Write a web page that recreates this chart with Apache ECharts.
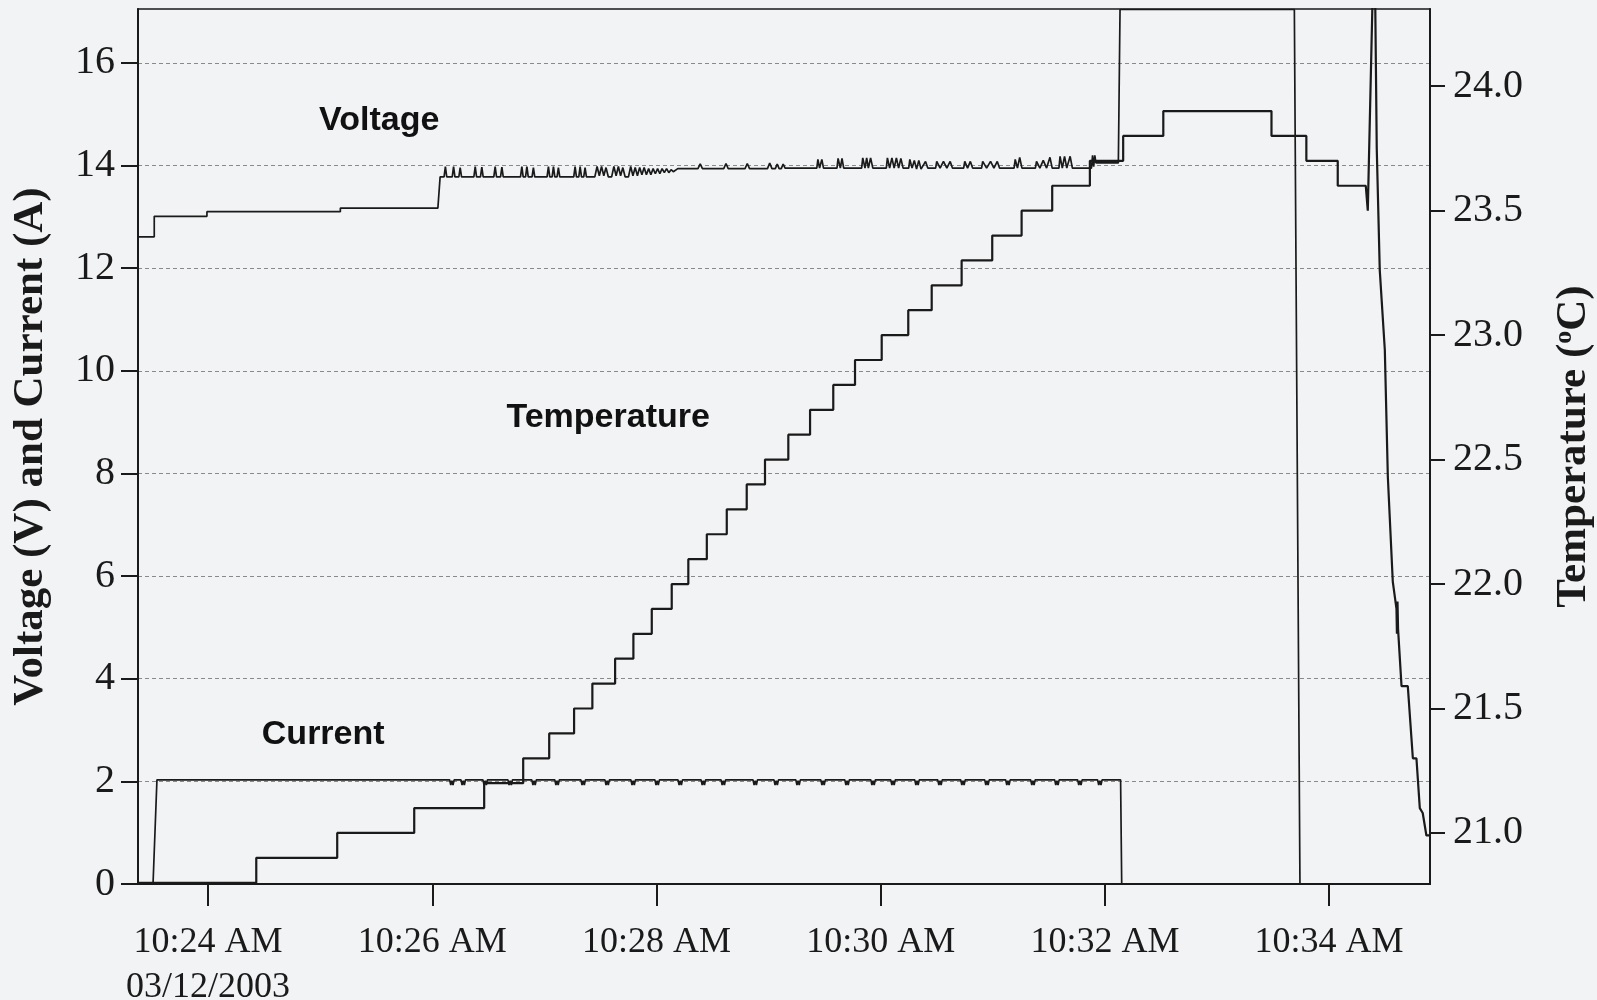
<!DOCTYPE html>
<html>
	<head>
		<meta charset="utf-8">
		<title>Voltage, current and temperature</title>
		<style>
			html, body { margin: 0; padding: 0; background: #f2f3f5; }
			#chart { width: 1597px; height: 1000px; }
		</style>
	</head>
	<body>
		<div id="chart"></div>

		<script src="https://cdn.jsdelivr.net/npm/echarts@6/dist/echarts.min.js"></script>
		<script>
			// time is given in minutes after 10:00 AM
			var timeTicks = [24, 26, 28, 30, 32, 34];
			var leftTicks = [0, 2, 4, 6, 8, 10, 12, 14, 16];
			var tempTicks = [21.0, 21.5, 22.0, 22.5, 23.0, 23.5, 24.0];

			var voltage = [
				[23.375, 12.61], [23.52, 12.61], [23.52, 13.01], [23.99, 13.01], [23.99, 13.1], [25.18, 13.1],
				[25.18, 13.17], [26.05, 13.17], [26.07, 13.78],
				[26.105, 13.78], [26.117, 13.98], [26.129, 13.78], [26.178, 13.78], [26.19, 13.98], [26.202, 13.78],
				[26.237, 13.78], [26.249, 13.96], [26.261, 13.78], [26.371, 13.78], [26.383, 13.98], [26.395, 13.78],
				[26.43, 13.78], [26.442, 13.97], [26.454, 13.78], [26.549, 13.78], [26.561, 13.98], [26.573, 13.78],
				[26.609, 13.78], [26.621, 13.97], [26.633, 13.78], [26.787, 13.78], [26.799, 13.98], [26.811, 13.78],
				[26.832, 13.78], [26.844, 13.98], [26.856, 13.78], [26.89, 13.78], [26.902, 13.96], [26.914, 13.78],
				[27.024, 13.78], [27.036, 13.98], [27.048, 13.78], [27.069, 13.78], [27.081, 13.98], [27.093, 13.78],
				[27.113, 13.78], [27.125, 13.96], [27.137, 13.78], [27.262, 13.78], [27.274, 13.98], [27.286, 13.78],
				[27.307, 13.78], [27.319, 13.98], [27.331, 13.78], [27.351, 13.78], [27.363, 13.96], [27.375, 13.78],
				[27.45, 13.78], [27.47, 13.98], [27.49, 13.8], [27.51, 13.98], [27.53, 13.8], [27.55, 13.96],
				[27.57, 13.78], [27.6, 13.78], [27.62, 13.98], [27.64, 13.8], [27.66, 13.98], [27.68, 13.8],
				[27.7, 13.96], [27.72, 13.78], [27.75, 13.78], [27.77, 13.98], [27.79, 13.8], [27.81, 13.96],
				[27.83, 13.8], [27.85, 13.96], [27.87, 13.82], [27.89, 13.96], [27.91, 13.82], [27.93, 13.94],
				[27.95, 13.82], [27.97, 13.94], [27.99, 13.84], [28.01, 13.94], [28.03, 13.84], [28.05, 13.94],
				[28.07, 13.86], [28.09, 13.94], [28.11, 13.86], [28.13, 13.92], [28.15, 13.88], [28.19, 13.94],
				[28.37, 13.94], [28.39, 14.03], [28.41, 13.94], [28.6, 13.94], [28.62, 14.04], [28.64, 13.94],
				[28.79, 13.94], [28.81, 14.04], [28.83, 13.94], [28.99, 13.94], [29.01, 14.05], [29.03, 13.94],
				[29.06, 13.94], [29.077, 14.03], [29.094, 13.94], [29.113, 13.94], [29.13, 14.03], [29.147, 13.95],
				[29.43, 13.95], [29.44, 14.12], [29.455, 13.95], [29.475, 14.12], [29.49, 13.95],
				[29.61, 13.95], [29.62, 14.14], [29.64, 13.95], [29.655, 14.14], [29.67, 13.95],
				[29.83, 13.95], [29.84, 14.15], [29.86, 13.95], [29.875, 14.15], [29.89, 13.95], [29.91, 14.15], [29.93, 13.95],
				[30.05, 13.95], [30.06, 14.15], [30.08, 13.95], [30.1, 14.15], [30.12, 13.95], [30.14, 14.15],
				[30.16, 13.95], [30.18, 14.14], [30.2, 13.95], [30.25, 13.95], [30.26, 14.12], [30.28, 13.95],
				[30.3, 14.1], [30.32, 13.93], [30.34, 14.1], [30.36, 13.93], [30.4, 14.08], [30.42, 13.95],
				[30.49, 13.95], [30.5, 14.08], [30.53, 13.95], [30.56, 14.08], [30.59, 13.95], [30.62, 14.08], [30.64, 13.95],
				[30.74, 13.95], [30.75, 14.08], [30.775, 13.95], [30.8, 14.08], [30.82, 13.95],
				[30.9, 13.95], [30.91, 14.08], [30.945, 13.95], [30.98, 14.08], [31.01, 13.95], [31.04, 14.08], [31.06, 13.95],
				[31.19, 13.95], [31.2, 14.12], [31.22, 13.95], [31.24, 14.16], [31.26, 13.95],
				[31.38, 13.95], [31.39, 14.08], [31.42, 13.95], [31.45, 14.1], [31.48, 13.95], [31.51, 14.16], [31.53, 13.95],
				[31.59, 13.95], [31.6, 14.18], [31.62, 13.95], [31.64, 14.18], [31.66, 13.95], [31.69, 14.18], [31.71, 13.95],
				[31.88, 13.95], [31.89, 14.2], [31.9, 13.98], [31.91, 14.2], [31.92, 14.05], [32.12, 14.05],
				[32.135, 17.04], [33.69, 17.04], [33.74, 0], [34.9, 0]
			];

			var current = [
				[23.375, 0], [23.509, 0], [23.544, 2.03],
				[26.155, 2.03], [26.165, 1.93], [26.175, 2.01], [26.185, 1.93], [26.195, 2.03],
				[26.256, 2.03], [26.266, 1.93], [26.276, 2.01], [26.286, 1.93], [26.296, 2.03],
				[26.452, 2.03], [26.462, 1.93], [26.472, 2.01], [26.482, 1.93], [26.492, 2.03],
				[26.675, 2.03], [26.685, 1.93], [26.695, 2.01], [26.705, 1.93], [26.715, 2.03],
				[26.888, 2.03], [26.898, 1.93], [26.908, 2.01], [26.918, 1.93], [26.928, 2.03],
				[27.093, 2.03], [27.103, 1.93], [27.113, 2.01], [27.123, 1.93], [27.133, 2.03],
				[27.326, 2.03], [27.336, 1.93], [27.346, 2.01], [27.356, 1.93], [27.366, 2.03],
				[27.54, 2.03], [27.55, 1.93], [27.56, 2.01], [27.57, 1.93], [27.58, 2.03],
				[27.772, 2.03], [27.782, 1.93], [27.792, 2.01], [27.802, 1.93], [27.812, 2.03],
				[27.986, 2.03], [27.996, 1.93], [28.006, 2.01], [28.016, 1.93], [28.026, 2.03],
				[28.192, 2.03], [28.202, 1.93], [28.212, 2.01], [28.222, 1.93], [28.232, 2.03],
				[28.398, 2.03], [28.408, 1.93], [28.418, 2.01], [28.428, 1.93], [28.438, 2.03],
				[28.576, 2.03], [28.586, 1.93], [28.596, 2.01], [28.606, 1.93], [28.616, 2.03],
				[28.861, 2.03], [28.871, 1.93], [28.881, 2.01], [28.891, 1.93], [28.901, 2.03],
				[29.048, 2.03], [29.058, 1.93], [29.068, 2.01], [29.078, 1.93], [29.088, 2.03],
				[29.243, 2.03], [29.253, 1.93], [29.263, 2.01], [29.273, 1.93], [29.283, 2.03],
				[29.466, 2.03], [29.476, 1.93], [29.486, 2.01], [29.496, 1.93], [29.506, 2.03],
				[29.68, 2.03], [29.69, 1.93], [29.7, 2.01], [29.71, 1.93], [29.72, 2.03],
				[29.912, 2.03], [29.922, 1.93], [29.932, 2.01], [29.942, 1.93], [29.952, 2.03],
				[30.09, 2.03], [30.1, 1.93], [30.11, 2.01], [30.12, 1.93], [30.13, 2.03],
				[30.304, 2.03], [30.314, 1.93], [30.324, 2.01], [30.334, 1.93], [30.344, 2.03],
				[30.509, 2.03], [30.519, 1.93], [30.529, 2.01], [30.539, 1.93], [30.549, 2.03],
				[30.714, 2.03], [30.724, 1.93], [30.734, 2.01], [30.744, 1.93], [30.754, 2.03],
				[30.928, 2.03], [30.938, 1.93], [30.948, 2.01], [30.958, 1.93], [30.968, 2.03],
				[31.115, 2.03], [31.125, 1.93], [31.135, 2.01], [31.145, 1.93], [31.155, 2.03],
				[31.338, 2.03], [31.348, 1.93], [31.358, 2.01], [31.368, 1.93], [31.378, 2.03],
				[31.552, 2.03], [31.562, 1.93], [31.572, 2.01], [31.582, 1.93], [31.592, 2.03],
				[31.757, 2.03], [31.767, 1.93], [31.777, 2.01], [31.787, 1.93], [31.797, 2.03],
				[31.935, 2.03], [31.945, 1.93], [31.955, 2.01], [31.965, 1.93], [31.975, 2.03],
				[32.14, 2.03], [32.15, 0], [34.9, 0]
			];

			var temperature = [
				[23.375, 20.8], [24.43, 20.8], [24.43, 20.9], [25.152, 20.9], [25.152, 21.0], [25.839, 21.0],
				[25.839, 21.1], [26.463, 21.1], [26.463, 21.2], [26.811, 21.2], [26.811, 21.3], [27.043, 21.3],
				[27.043, 21.4], [27.265, 21.4], [27.265, 21.5], [27.428, 21.5], [27.428, 21.6], [27.631, 21.6],
				[27.631, 21.7], [27.794, 21.7], [27.794, 21.8], [27.958, 21.8], [27.958, 21.9], [28.136, 21.9],
				[28.136, 22.0], [28.284, 22.0], [28.284, 22.1], [28.449, 22.1], [28.449, 22.2], [28.627, 22.2],
				[28.627, 22.3], [28.805, 22.3], [28.805, 22.4], [28.968, 22.4], [28.968, 22.5], [29.176, 22.5],
				[29.176, 22.6], [29.37, 22.6], [29.37, 22.7], [29.577, 22.7], [29.577, 22.8], [29.771, 22.8],
				[29.771, 22.9], [30.009, 22.9], [30.009, 23.0], [30.246, 23.0], [30.246, 23.1], [30.455, 23.1],
				[30.455, 23.2], [30.722, 23.2], [30.722, 23.3], [30.995, 23.3], [30.995, 23.4], [31.257, 23.4],
				[31.257, 23.5], [31.53, 23.5], [31.53, 23.6], [31.866, 23.6], [31.866, 23.7], [32.163, 23.7],
				[32.163, 23.8], [32.521, 23.8], [32.521, 23.9], [33.486, 23.9], [33.486, 23.8], [33.797, 23.8],
				[33.797, 23.7], [34.077, 23.7], [34.077, 23.6], [34.327, 23.6], [34.345, 23.5], [34.39, 24.4],
				[34.41, 24.4], [34.425, 23.75], [34.452, 23.26], [34.497, 22.94], [34.524, 22.43], [34.568, 22.01],
				[34.601, 21.9], [34.605, 21.8], [34.61, 21.93], [34.615, 21.82], [34.646, 21.59], [34.702, 21.59],
				[34.747, 21.3], [34.779, 21.3], [34.809, 21.1], [34.835, 21.08], [34.868, 20.99], [34.9, 20.99]
			];

			var ink = '#1a1a1a';
			var serif = '"Liberation Serif", "DejaVu Serif", serif';
			var sans = '"Liberation Sans", Arial, sans-serif';

			function timeLabel(v) {
				var s = '10:' + Math.round(v) + ' AM';
				if (Math.round(v) === 24) s += '\n03/12/2003';
				return s;
			}

			// bold captions placed next to each curve
			function textMark(text, coord) {
				return {
					coord: coord,
					symbol: 'circle',
					symbolSize: 0,
					label: {
						show: true,
						position: 'inside',
						formatter: text,
						fontFamily: sans,
						fontWeight: 'bold',
						fontSize: 34,
						color: '#111'
					}
				};
			}

			var chart = echarts.init(document.getElementById('chart'), null, { renderer: 'canvas' });

			var option = {
				backgroundColor: '#f2f3f5',
				animation: false,
				grid: {
					left: 138,
					right: 167,
					top: 9,
					bottom: 116,
					show: true,
					borderColor: ink,
					borderWidth: 1.5,
					backgroundColor: 'transparent',
					outerBoundsMode: 'none'
				},
				xAxis: {
					type: 'value',
					min: 23.375,
					max: 34.9,
					splitLine: { show: false },
					axisLine: { lineStyle: { color: ink, width: 2 } },
					axisTick: { customValues: timeTicks, length: 22, lineStyle: { color: ink, width: 2 } },
					axisLabel: {
						customValues: timeTicks,
						formatter: timeLabel,
						margin: 36,
						fontFamily: serif,
						fontSize: 36,
						lineHeight: 45,
						color: ink
					}
				},
				yAxis: [{
					type: 'value',
					position: 'left',
					min: 0,
					max: 17.05,
					interval: 2,
					name: 'Voltage (V) and Current (A)',
					nameLocation: 'middle',
					nameGap: 86,
					nameTextStyle: { fontFamily: serif, fontWeight: 'bold', fontSize: 43, color: ink },
					axisLine: { show: true, lineStyle: { color: ink, width: 2 } },
					axisTick: { show: true, customValues: leftTicks, length: 17, lineStyle: { color: ink, width: 2 } },
					axisLabel: {
						customValues: leftTicks,
						margin: 23,
						fontFamily: serif,
						fontSize: 40,
						color: ink
					},
					splitLine: { show: true, lineStyle: { color: '#8a8a8a', width: 1, type: [4, 3] } }
				}, {
					type: 'value',
					position: 'right',
					min: 20.795,
					max: 24.31,
					alignTicks: false,
					name: '{a|Temperature (}{s|o}{a|C)}',
					nameLocation: 'middle',
					nameGap: 121,
					nameTextStyle: {
						rich: {
							a: { fontFamily: serif, fontWeight: 'bold', fontSize: 43, color: ink, lineHeight: 46 },
							s: { fontFamily: serif, fontWeight: 'bold', fontSize: 26, color: ink, lineHeight: 24, verticalAlign: 'top' }
						}
					},
					axisLine: { show: true, lineStyle: { color: ink, width: 2 } },
					axisTick: { show: true, customValues: tempTicks, length: 15, lineStyle: { color: ink, width: 2 } },
					axisLabel: {
						customValues: tempTicks,
						formatter: function (v) { return v.toFixed(1); },
						margin: 23,
						fontFamily: serif,
						fontSize: 40,
						color: ink
					},
					splitLine: { show: false }
				}],
				series: [{
					name: 'Voltage',
					type: 'line',
					yAxisIndex: 0,
					data: voltage,
					showSymbol: false,
					symbol: 'none',
					clip: true,
					lineStyle: { color: ink, width: 1.7 },
					markPoint: {
						silent: true,
						data: [
							textMark('Voltage', [25.527, 14.87]),
							textMark('Temperature', [27.569, 9.08]),
							textMark('Current', [25.027, 2.92])
						]
					}
				}, {
					name: 'Current',
					type: 'line',
					yAxisIndex: 0,
					data: current,
					showSymbol: false,
					symbol: 'none',
					clip: true,
					lineStyle: { color: ink, width: 1.7 }
				}, {
					name: 'Temperature',
					type: 'line',
					yAxisIndex: 1,
					data: temperature,
					showSymbol: false,
					symbol: 'none',
					clip: true,
					lineStyle: { color: ink, width: 2.2 }
				}]
			};

			chart.setOption(option);
			window.onresize = function () {
				chart.resize();
			};
		</script>
	</body>
</html>
